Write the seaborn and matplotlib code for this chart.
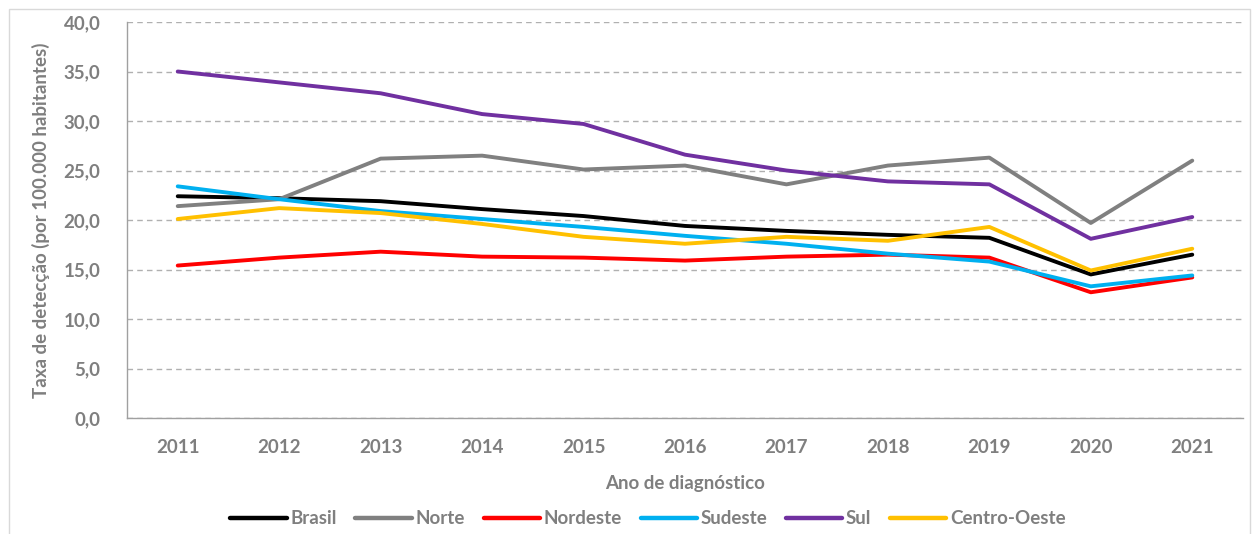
import matplotlib
matplotlib.use("Agg")
import matplotlib.pyplot as plt
import matplotlib.patches as mpatches
import seaborn as sns
import pandas as pd
import numpy as np

years = [2011, 2012, 2013, 2014, 2015, 2016, 2017, 2018, 2019, 2020, 2021]
brasil = [22.4, 22.2, 21.9, 21.1, 20.4, 19.4, 18.9, 18.5, 18.2, 14.5, 16.5]
norte = [21.4, 22.1, 26.2, 26.5, 25.1, 25.5, 23.6, 25.5, 26.3, 19.7, 26.0]
nordeste = [15.4, 16.2, 16.8, 16.3, 16.2, 15.9, 16.3, 16.5, 16.2, 12.7, 14.2]
sudeste = [23.4, 22.1, 20.9, 20.1, 19.3, 18.4, 17.6, 16.6, 15.8, 13.3, 14.4]
sul = [35.0, 33.9, 32.8, 30.7, 29.7, 26.6, 25.0, 23.9, 23.6, 18.1, 20.3]
centro_oeste = [20.1, 21.2, 20.7, 19.6, 18.3, 17.6, 18.3, 17.9, 19.3, 14.9, 17.1]

series_names = ["Brasil", "Norte", "Nordeste", "Sudeste", "Sul", "Centro-Oeste"]
series_values = [brasil, norte, nordeste, sudeste, sul, centro_oeste]
colors = ["#000000", "#808080", "#FF0000", "#00B0F0", "#7030A0", "#FFC000"]
y_ticks = [0, 5, 10, 15, 20, 25, 30, 35, 40]

rows = []
for name, vals in zip(series_names, series_values):
    for y, v in zip(years, vals):
        rows.append({"Ano": y, "Taxa": v, "Região": name})
df = pd.DataFrame(rows)

sns.set_style("white")
plt.rcParams["font.family"] = ["Lato", "DejaVu Sans"]
text_color = "#7F7F7F"
fs = 13.5

fig = plt.figure(figsize=(12.57, 5.34), dpi=100)
ax = fig.add_axes([127/1257, (534-418)/534, (1243-127)/1257, (418-22)/534])

sns.lineplot(data=df, x="Ano", y="Taxa", hue="Região", hue_order=series_names,
             palette=dict(zip(series_names, colors)), linewidth=2.8, ax=ax,
             legend=False)

ax.set_xlim(2010.5, 2021.5)
ax.set_ylim(0, 40)
ax.set_yticks(y_ticks)
ax.set_yticklabels([f"{t:.1f}".replace(".", ",") for t in y_ticks],
                   fontsize=fs, fontweight="bold", color=text_color)
ax.yaxis.grid(True, linestyle=(0, (4, 3)), color="#B0B0B0", linewidth=1)
ax.set_axisbelow(True)

ax.set_xticks(np.arange(2010.5, 2022, 1))
ax.set_xticklabels([])
ax.set_xticks(years, minor=True)
ax.set_xticklabels([str(y) for y in years], minor=True,
                   fontsize=fs, fontweight="bold", color=text_color)
ax.tick_params(axis="x", which="major", length=8, direction="out", color="#A0A0A0", width=1)
ax.tick_params(axis="x", which="minor", length=0, pad=15)
ax.tick_params(axis="y", length=5, direction="out", color="#A0A0A0", width=1, pad=14)

for s in ["top", "right"]:
    ax.spines[s].set_visible(False)
for s in ["left", "bottom"]:
    ax.spines[s].set_color("#A0A0A0")
    ax.spines[s].set_linewidth(1)

ax.set_xlabel("Ano de diagnóstico", fontsize=fs, fontweight="bold",
              color=text_color, labelpad=14)
ax.set_ylabel("Taxa de detecção (por 100.000 habitantes)", fontsize=fs,
              fontweight="bold", color=text_color, labelpad=10)

handles = [plt.Line2D([0], [0], color=c, linewidth=3.2) for c in colors]
leg = fig.legend(handles, series_names, loc="center", bbox_to_anchor=(648/1257, 1-519/534),
                 ncol=6, frameon=False, handlelength=3.0, columnspacing=1.0,
                 handletextpad=0.2, prop={"size": fs, "weight": "bold"})
for t in leg.get_texts():
    t.set_color(text_color)

border = mpatches.Rectangle((9/1257, -0.05), (1250-9)/1257, 1.05 - 9/534,
                            transform=fig.transFigure, fill=False,
                            edgecolor="#D9D9D9", linewidth=1)
fig.patches.append(border)

fig.savefig("out.png", dpi=100)
